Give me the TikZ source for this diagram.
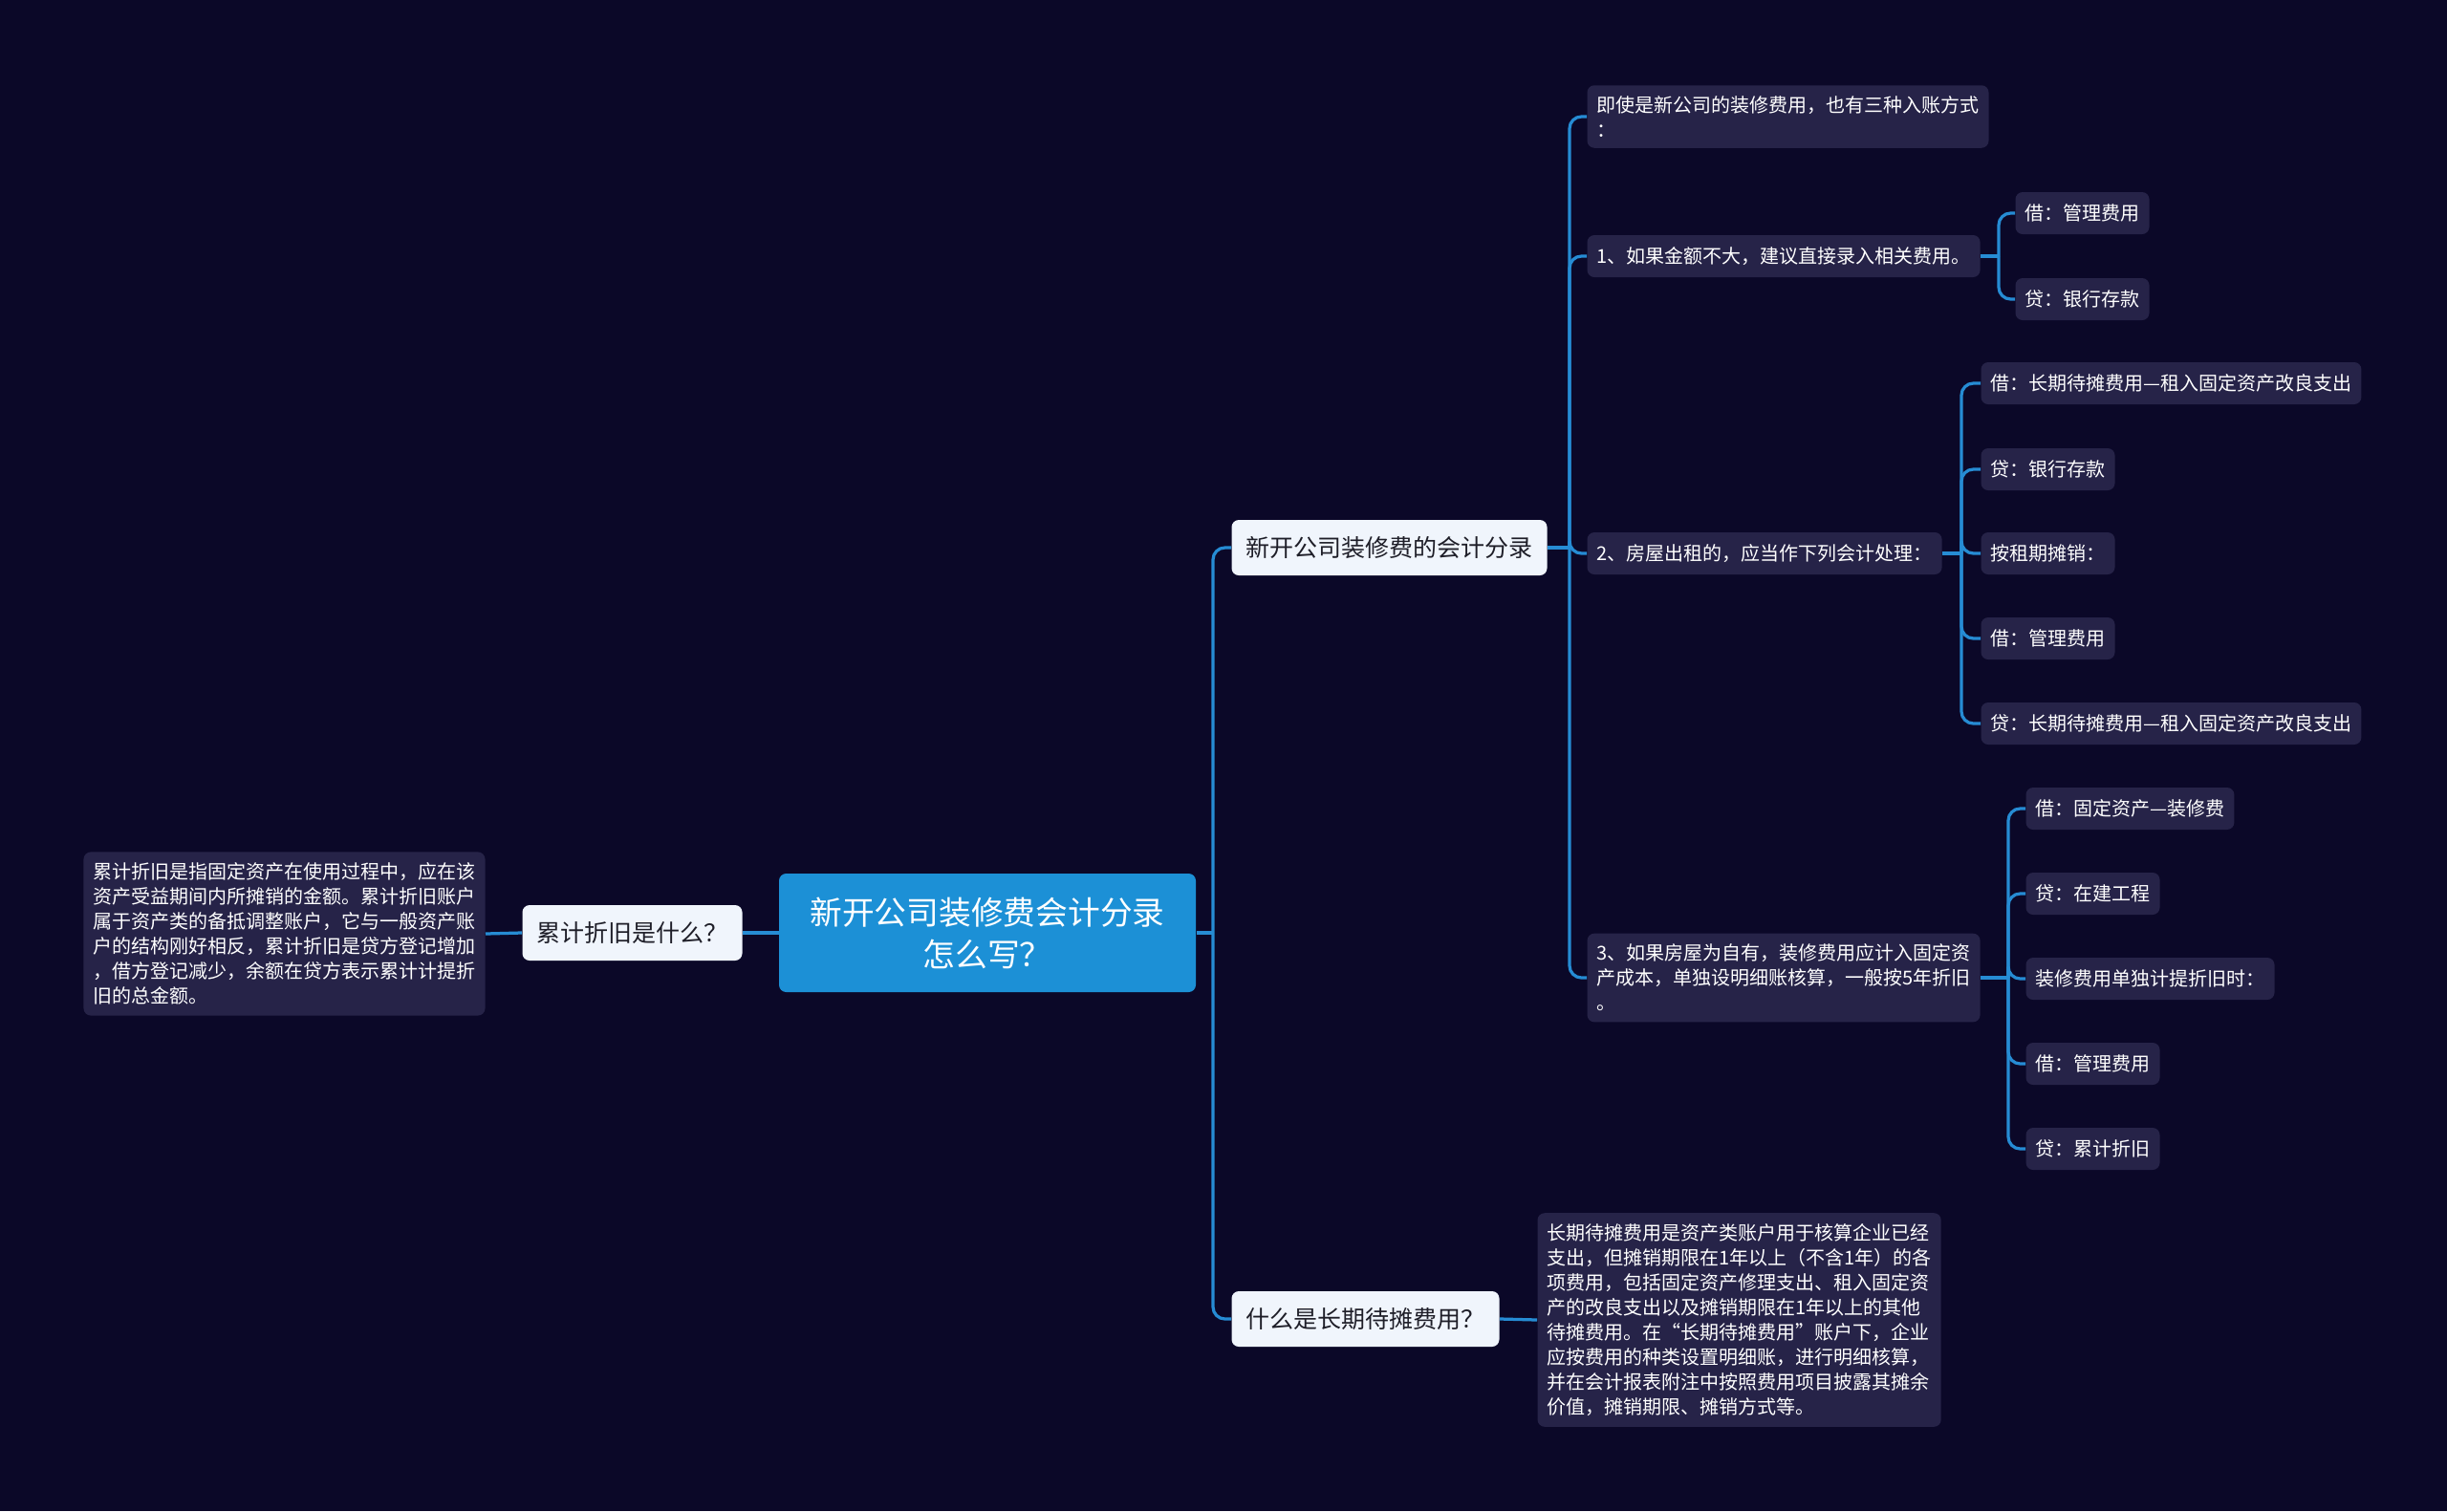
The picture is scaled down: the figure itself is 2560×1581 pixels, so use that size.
\documentclass[tikz,border=0pt]{standalone}
\usepackage{fontspec}
\newfontfamily\cjk{Noto Sans CJK SC}
\usepackage{xcolor}
\usepackage{tikz}
\usetikzlibrary{positioning}
\definecolor{nightbg}{RGB}{11,8,40}
\definecolor{leaffill}{RGB}{38,35,72}
\definecolor{topicfill}{RGB}{240,245,252}
\definecolor{rootblue}{RGB}{28,144,214}
\definecolor{linkblue}{RGB}{38,140,212}
\definecolor{inkdark}{RGB}{30,30,40}
\tikzset{
  rootbox/.style={fill=rootblue,rounded corners=3pt,align=center,text=white,
    font=\cjk\fontsize{13.5pt}{17.6pt}\selectfont,
    minimum width=174.4pt,minimum height=49.6pt,inner sep=0pt},
  topicbox/.style={fill=topicfill,rounded corners=3pt,text=inkdark,
    font=\cjk\fontsize{10pt}{12pt}\selectfont,
    minimum height=23.2pt,inner xsep=6pt,inner ysep=0pt},
  leafbox/.style={fill=leaffill,rounded corners=3pt,text=white,align=left,
    font=\cjk\fontsize{8pt}{10.4pt}\selectfont,
    minimum height=17.6pt,inner xsep=4pt,inner ysep=4.5pt},
  link/.style={draw=linkblue,line width=1.3pt,rounded corners=5pt}
}

\begin{document}
\begin{tikzpicture}[x=0.4pt,y=-0.4pt]
  \fill[nightbg] (0,0) rectangle (2560,1581);
  \useasboundingbox (0,0) rectangle (2560,1581);
  % centre and left branch
  \node[rootbox] (root) at (1033,976) {新开公司装修费会计分录\\怎么写？};
  \node[topicbox,anchor=east] (deprq) at (777,976) {累计折旧是什么？};
  \node[leafbox,anchor=east] (deprnote) at (508,977)
    {累计折旧是指固定资产在使用过程中，应在该\\资产受益期间内所摊销的金额。累计折旧账户\\属于资产类的备抵调整账户，它与一般资产账\\户的结构刚好相反，累计折旧是贷方登记增加\\，借方登记减少，余额在贷方表示累计计提折\\旧的总金额。};
  % right branches
  \node[topicbox,anchor=west] (entry) at (1288,573) {新开公司装修费的会计分录};
  \node[topicbox,anchor=west] (amortq) at (1288,1380) {什么是长期待摊费用？};
  \node[leafbox,anchor=west] (amortnote) at (1608,1381)
    {长期待摊费用是资产类账户用于核算企业已经\\支出，但摊销期限在1年以上（不含1年）的各\\项费用，包括固定资产修理支出、租入固定资\\产的改良支出以及摊销期限在1年以上的其他\\待摊费用。在“长期待摊费用”账户下，企业\\应按费用的种类设置明细账，进行明细核算，\\并在会计报表附注中按照费用项目披露其摊余\\价值，摊销期限、摊销方式等。};
  \node[leafbox,anchor=west] (intro) at (1660,122) {即使是新公司的装修费用，也有三种入账方式\\：};
  \node[leafbox,anchor=west] (way1) at (1660,268) {1、如果金额不大，建议直接录入相关费用。};
  \node[leafbox,anchor=west] (way2) at (1660,579) {2、房屋出租的，应当作下列会计处理：};
  \node[leafbox,anchor=west] (way3) at (1660,1023)
    {3、如果房屋为自有，装修费用应计入固定资\\产成本，单独设明细账核算，一般按5年折旧\\。};
  % entries of way 1
  \node[leafbox,anchor=west] (w1debit) at (2108,223) {借：管理费用};
  \node[leafbox,anchor=west] (w1credit) at (2108,313) {贷：银行存款};
  % entries of way 2
  \node[leafbox,anchor=west] (w2debit) at (2072,401) {借：长期待摊费用—租入固定资产改良支出};
  \node[leafbox,anchor=west] (w2credit) at (2072,491) {贷：银行存款};
  \node[leafbox,anchor=west] (w2spread) at (2072,579) {按租期摊销：};
  \node[leafbox,anchor=west] (w2mdebit) at (2072,668) {借：管理费用};
  \node[leafbox,anchor=west] (w2mcredit) at (2072,757) {贷：长期待摊费用—租入固定资产改良支出};
  % entries of way 3
  \node[leafbox,anchor=west] (w3debit) at (2119,846) {借：固定资产—装修费};
  \node[leafbox,anchor=west] (w3credit) at (2119,935) {贷：在建工程};
  \node[leafbox,anchor=west] (w3depr) at (2119,1024) {装修费用单独计提折旧时：};
  \node[leafbox,anchor=west] (w3mdebit) at (2119,1113) {借：管理费用};
  \node[leafbox,anchor=west] (w3mcredit) at (2119,1202) {贷：累计折旧};
  % connectors
  \coordinate (rootbus) at (1269,976);
  \coordinate (entrybus) at (1642,573);
  \coordinate (way1bus) at (2091,268);
  \coordinate (way2bus) at (2052,579);
  \coordinate (way3bus) at (2101,1023);
  \draw[link] (root.west) -- (deprq.east);
  \draw[link] (deprq.west) -- (deprnote.east);
  \draw[link] (amortq.east) -- (amortnote.west);
  \draw[link] (root.east) -- (rootbus);
  \draw[link] (rootbus) |- (entry.west);
  \draw[link] (rootbus) |- (amortq.west);
  \draw[link] (entry.east) -- (entrybus);
  \draw[link] (entrybus) |- (intro.west);
  \draw[link] (entrybus) |- (way1.west);
  \draw[link] (entrybus) |- (way2.west);
  \draw[link] (entrybus) |- (way3.west);
  \draw[link] (way1.east) -- (way1bus);
  \draw[link] (way1bus) |- (w1debit.west);
  \draw[link] (way1bus) |- (w1credit.west);
  \draw[link] (way2.east) -- (way2bus);
  \draw[link] (way2bus) |- (w2debit.west);
  \draw[link] (way2bus) |- (w2credit.west);
  \draw[link] (way2bus) |- (w2spread.west);
  \draw[link] (way2bus) |- (w2mdebit.west);
  \draw[link] (way2bus) |- (w2mcredit.west);
  \draw[link] (way3.east) -- (way3bus);
  \draw[link] (way3bus) |- (w3debit.west);
  \draw[link] (way3bus) |- (w3credit.west);
  \draw[link] (way3bus) |- (w3depr.west);
  \draw[link] (way3bus) |- (w3mdebit.west);
  \draw[link] (way3bus) |- (w3mcredit.west);
\end{tikzpicture}
\end{document}
